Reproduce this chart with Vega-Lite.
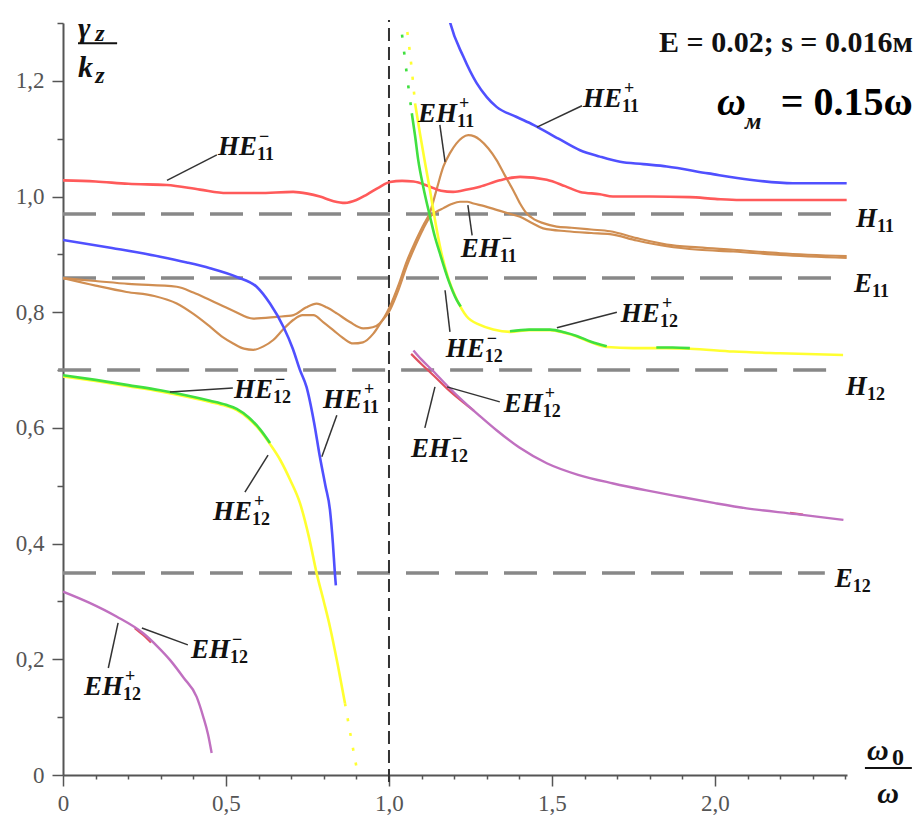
{
 "$schema": "https://vega.github.io/schema/vega-lite/v6.json",
 "width": 784, "height": 752,
 "autosize": {"type": "none"},
 "padding": {"left": 63, "top": 23, "right": 69, "bottom": 43},
 "background": "white",
 "config": {"font": "Liberation Serif", "view": {"stroke": null}, "text": {"font": "Liberation Serif"}, "axis": {"labelFont": "Liberation Serif"}},
 "datasets": {
  "refs": [
   {"n":"H11","x":0,"x2":2.399,"y":0.970},
   {"n":"E11","x":0,"x2":2.390,"y":0.859},
   {"n":"H12","x":-0.015,"x2":2.383,"y":0.700},
   {"n":"E12","x":0,"x2":2.337,"y":0.349}
  ],
  "vref": [{"x":1.0,"y":-0.012,"y2":1.305}],
  "curves": [
   {"m":"HE11m","p":"A","x":0,"y":1.028},{"m":"HE11m","p":"A","x":0.1,"y":1.026},{"m":"HE11m","p":"A","x":0.2,"y":1.022},{"m":"HE11m","p":"A","x":0.318,"y":1.020},{"m":"HE11m","p":"A","x":0.42,"y":1.012},{"m":"HE11m","p":"A","x":0.502,"y":1.006},{"m":"HE11m","p":"A","x":0.6,"y":1.006},{"m":"HE11m","p":"A","x":0.706,"y":1.008},{"m":"HE11m","p":"A","x":0.75,"y":1.005},{"m":"HE11m","p":"A","x":0.788,"y":1.0},{"m":"HE11m","p":"A","x":0.83,"y":0.992},{"m":"HE11m","p":"A","x":0.865,"y":0.989},{"m":"HE11m","p":"A","x":0.9,"y":0.994},{"m":"HE11m","p":"A","x":0.931,"y":1.003},{"m":"HE11m","p":"A","x":0.97,"y":1.016},{"m":"HE11m","p":"A","x":1.003,"y":1.025},{"m":"HE11m","p":"A","x":1.04,"y":1.027},{"m":"HE11m","p":"A","x":1.075,"y":1.026},{"m":"HE11m","p":"A","x":1.126,"y":1.017},{"m":"HE11m","p":"A","x":1.16,"y":1.010},{"m":"HE11m","p":"A","x":1.197,"y":1.008},{"m":"HE11m","p":"A","x":1.24,"y":1.012},{"m":"HE11m","p":"A","x":1.279,"y":1.017},{"m":"HE11m","p":"A","x":1.34,"y":1.028},{"m":"HE11m","p":"A","x":1.402,"y":1.034},{"m":"HE11m","p":"A","x":1.484,"y":1.029},{"m":"HE11m","p":"A","x":1.54,"y":1.018},{"m":"HE11m","p":"A","x":1.586,"y":1.008},{"m":"HE11m","p":"A","x":1.647,"y":1.004},{"m":"HE11m","p":"A","x":1.687,"y":1.0},{"m":"HE11m","p":"A","x":1.8,"y":1.0},{"m":"HE11m","p":"A","x":1.923,"y":0.999},{"m":"HE11m","p":"A","x":2.0,"y":0.996},{"m":"HE11m","p":"A","x":2.077,"y":0.994},{"m":"HE11m","p":"A","x":2.25,"y":0.994},{"m":"HE11m","p":"A","x":2.404,"y":0.994},

   {"m":"HE11p","p":"L","x":0,"y":0.925},{"m":"HE11p","p":"L","x":0.15,"y":0.911},{"m":"HE11p","p":"L","x":0.298,"y":0.896},{"m":"HE11p","p":"L","x":0.38,"y":0.886},{"m":"HE11p","p":"L","x":0.451,"y":0.876},{"m":"HE11p","p":"L","x":0.533,"y":0.861},{"m":"HE11p","p":"L","x":0.594,"y":0.844},{"m":"HE11p","p":"L","x":0.635,"y":0.815},{"m":"HE11p","p":"L","x":0.676,"y":0.775},{"m":"HE11p","p":"L","x":0.705,"y":0.737},{"m":"HE11p","p":"L","x":0.727,"y":0.700},{"m":"HE11p","p":"L","x":0.747,"y":0.671},{"m":"HE11p","p":"L","x":0.77,"y":0.61},{"m":"HE11p","p":"L","x":0.788,"y":0.55},{"m":"HE11p","p":"L","x":0.805,"y":0.5},{"m":"HE11p","p":"L","x":0.819,"y":0.458},{"m":"HE11p","p":"L","x":0.828,"y":0.4},{"m":"HE11p","p":"L","x":0.834,"y":0.349},{"m":"HE11p","p":"L","x":0.837,"y":0.328},
   {"m":"HE11p","p":"R","x":1.172,"y":1.34},{"m":"HE11p","p":"R","x":1.187,"y":1.302},{"m":"HE11p","p":"R","x":1.228,"y":1.242},{"m":"HE11p","p":"R","x":1.269,"y":1.196},{"m":"HE11p","p":"R","x":1.30,"y":1.172},{"m":"HE11p","p":"R","x":1.33,"y":1.155},{"m":"HE11p","p":"R","x":1.39,"y":1.138},{"m":"HE11p","p":"R","x":1.443,"y":1.124},{"m":"HE11p","p":"R","x":1.52,"y":1.10},{"m":"HE11p","p":"R","x":1.586,"y":1.080},{"m":"HE11p","p":"R","x":1.647,"y":1.069},{"m":"HE11p","p":"R","x":1.709,"y":1.060},{"m":"HE11p","p":"R","x":1.78,"y":1.056},{"m":"HE11p","p":"R","x":1.852,"y":1.052},{"m":"HE11p","p":"R","x":1.98,"y":1.040},{"m":"HE11p","p":"R","x":2.107,"y":1.029},{"m":"HE11p","p":"R","x":2.239,"y":1.023},{"m":"HE11p","p":"R","x":2.404,"y":1.023},

   {"m":"EH11p","p":"A","x":0,"y":0.859},{"m":"EH11p","p":"A","x":0.1,"y":0.854},{"m":"EH11p","p":"A","x":0.2,"y":0.849},{"m":"EH11p","p":"A","x":0.349,"y":0.844},{"m":"EH11p","p":"A","x":0.4,"y":0.834},{"m":"EH11p","p":"A","x":0.451,"y":0.821},{"m":"EH11p","p":"A","x":0.52,"y":0.803},{"m":"EH11p","p":"A","x":0.584,"y":0.789},{"m":"EH11p","p":"A","x":0.655,"y":0.792},{"m":"EH11p","p":"A","x":0.707,"y":0.795},{"m":"EH11p","p":"A","x":0.745,"y":0.808},{"m":"EH11p","p":"A","x":0.778,"y":0.815},{"m":"EH11p","p":"A","x":0.81,"y":0.808},{"m":"EH11p","p":"A","x":0.84,"y":0.798},{"m":"EH11p","p":"A","x":0.88,"y":0.783},{"m":"EH11p","p":"A","x":0.921,"y":0.772},{"m":"EH11p","p":"A","x":0.95,"y":0.774},{"m":"EH11p","p":"A","x":0.972,"y":0.781},{"m":"EH11p","p":"A","x":1.003,"y":0.81},{"m":"EH11p","p":"A","x":1.03,"y":0.848},{"m":"EH11p","p":"A","x":1.054,"y":0.887},{"m":"EH11p","p":"A","x":1.08,"y":0.921},{"m":"EH11p","p":"A","x":1.105,"y":0.95},{"m":"EH11p","p":"A","x":1.126,"y":0.973},{"m":"EH11p","p":"A","x":1.146,"y":1.012},{"m":"EH11p","p":"A","x":1.167,"y":1.052},{"m":"EH11p","p":"A","x":1.187,"y":1.075},{"m":"EH11p","p":"A","x":1.207,"y":1.092},{"m":"EH11p","p":"A","x":1.225,"y":1.102},{"m":"EH11p","p":"A","x":1.243,"y":1.106},{"m":"EH11p","p":"A","x":1.262,"y":1.104},{"m":"EH11p","p":"A","x":1.279,"y":1.098},{"m":"EH11p","p":"A","x":1.305,"y":1.083},{"m":"EH11p","p":"A","x":1.33,"y":1.063},{"m":"EH11p","p":"A","x":1.355,"y":1.037},{"m":"EH11p","p":"A","x":1.381,"y":1.011},{"m":"EH11p","p":"A","x":1.402,"y":0.988},{"m":"EH11p","p":"A","x":1.422,"y":0.971},{"m":"EH11p","p":"A","x":1.447,"y":0.96},{"m":"EH11p","p":"A","x":1.473,"y":0.954},{"m":"EH11p","p":"A","x":1.514,"y":0.948},{"m":"EH11p","p":"A","x":1.56,"y":0.946},{"m":"EH11p","p":"A","x":1.62,"y":0.943},{"m":"EH11p","p":"A","x":1.678,"y":0.94},{"m":"EH11p","p":"A","x":1.76,"y":0.928},{"m":"EH11p","p":"A","x":1.852,"y":0.917},{"m":"EH11p","p":"A","x":1.95,"y":0.912},{"m":"EH11p","p":"A","x":2.056,"y":0.908},{"m":"EH11p","p":"A","x":2.2,"y":0.902},{"m":"EH11p","p":"A","x":2.404,"y":0.897},

   {"m":"EH11m","p":"A","x":0,"y":0.859},{"m":"EH11m","p":"A","x":0.1,"y":0.846},{"m":"EH11m","p":"A","x":0.195,"y":0.835},{"m":"EH11m","p":"A","x":0.28,"y":0.828},{"m":"EH11m","p":"A","x":0.349,"y":0.815},{"m":"EH11m","p":"A","x":0.4,"y":0.797},{"m":"EH11m","p":"A","x":0.451,"y":0.775},{"m":"EH11m","p":"A","x":0.49,"y":0.757},{"m":"EH11m","p":"A","x":0.522,"y":0.746},{"m":"EH11m","p":"A","x":0.555,"y":0.737},{"m":"EH11m","p":"A","x":0.584,"y":0.735},{"m":"EH11m","p":"A","x":0.615,"y":0.741},{"m":"EH11m","p":"A","x":0.645,"y":0.752},{"m":"EH11m","p":"A","x":0.675,"y":0.77},{"m":"EH11m","p":"A","x":0.707,"y":0.787},{"m":"EH11m","p":"A","x":0.735,"y":0.795},{"m":"EH11m","p":"A","x":0.768,"y":0.795},{"m":"EH11m","p":"A","x":0.8,"y":0.782},{"m":"EH11m","p":"A","x":0.829,"y":0.769},{"m":"EH11m","p":"A","x":0.86,"y":0.755},{"m":"EH11m","p":"A","x":0.89,"y":0.746},{"m":"EH11m","p":"A","x":0.92,"y":0.748},{"m":"EH11m","p":"A","x":0.952,"y":0.763},{"m":"EH11m","p":"A","x":0.975,"y":0.782},{"m":"EH11m","p":"A","x":1.003,"y":0.804},{"m":"EH11m","p":"A","x":1.03,"y":0.84},{"m":"EH11m","p":"A","x":1.054,"y":0.879},{"m":"EH11m","p":"A","x":1.08,"y":0.914},{"m":"EH11m","p":"A","x":1.105,"y":0.944},{"m":"EH11m","p":"A","x":1.126,"y":0.965},{"m":"EH11m","p":"A","x":1.146,"y":0.974},{"m":"EH11m","p":"A","x":1.167,"y":0.98},{"m":"EH11m","p":"A","x":1.192,"y":0.987},{"m":"EH11m","p":"A","x":1.218,"y":0.991},{"m":"EH11m","p":"A","x":1.24,"y":0.991},{"m":"EH11m","p":"A","x":1.259,"y":0.988},{"m":"EH11m","p":"A","x":1.295,"y":0.983},{"m":"EH11m","p":"A","x":1.33,"y":0.977},{"m":"EH11m","p":"A","x":1.365,"y":0.971},{"m":"EH11m","p":"A","x":1.402,"y":0.965},{"m":"EH11m","p":"A","x":1.44,"y":0.954},{"m":"EH11m","p":"A","x":1.473,"y":0.945},{"m":"EH11m","p":"A","x":1.545,"y":0.94},{"m":"EH11m","p":"A","x":1.62,"y":0.937},{"m":"EH11m","p":"A","x":1.678,"y":0.935},{"m":"EH11m","p":"A","x":1.76,"y":0.924},{"m":"EH11m","p":"A","x":1.852,"y":0.914},{"m":"EH11m","p":"A","x":1.95,"y":0.908},{"m":"EH11m","p":"A","x":2.056,"y":0.905},{"m":"EH11m","p":"A","x":2.2,"y":0.899},{"m":"EH11m","p":"A","x":2.404,"y":0.894},

   {"m":"HE12p","p":"L","x":0,"y":0.689},{"m":"HE12p","p":"L","x":0.1,"y":0.681},{"m":"HE12p","p":"L","x":0.2,"y":0.672},{"m":"HE12p","p":"L","x":0.298,"y":0.663},{"m":"HE12p","p":"L","x":0.38,"y":0.654},{"m":"HE12p","p":"L","x":0.451,"y":0.645},{"m":"HE12p","p":"L","x":0.5,"y":0.638},{"m":"HE12p","p":"L","x":0.533,"y":0.631},{"m":"HE12p","p":"L","x":0.57,"y":0.616},{"m":"HE12p","p":"L","x":0.604,"y":0.596},{"m":"HE12p","p":"L","x":0.635,"y":0.572},{"m":"HE12p","p":"L","x":0.666,"y":0.545},{"m":"HE12p","p":"L","x":0.697,"y":0.51},{"m":"HE12p","p":"L","x":0.727,"y":0.47},{"m":"HE12p","p":"L","x":0.755,"y":0.41},{"m":"HE12p","p":"L","x":0.778,"y":0.349},{"m":"HE12p","p":"L","x":0.8,"y":0.3},{"m":"HE12p","p":"L","x":0.819,"y":0.256},{"m":"HE12p","p":"L","x":0.843,"y":0.19},{"m":"HE12p","p":"L","x":0.865,"y":0.124},
   {"m":"HE12p","p":"dot","x":0.865,"y":0.124},{"m":"HE12p","p":"dot","x":0.885,"y":0.06},{"m":"HE12p","p":"dot","x":0.905,"y":0.0},
   {"m":"HE12p","p":"R","x":1.08,"y":1.161},{"m":"HE12p","p":"R","x":1.095,"y":1.109},{"m":"HE12p","p":"R","x":1.11,"y":1.06},{"m":"HE12p","p":"R","x":1.126,"y":1.01},{"m":"HE12p","p":"R","x":1.141,"y":0.96},{"m":"HE12p","p":"R","x":1.156,"y":0.915},{"m":"HE12p","p":"R","x":1.18,"y":0.862},{"m":"HE12p","p":"R","x":1.208,"y":0.822},{"m":"HE12p","p":"R","x":1.238,"y":0.793},{"m":"HE12p","p":"R","x":1.279,"y":0.778},{"m":"HE12p","p":"R","x":1.32,"y":0.77},{"m":"HE12p","p":"R","x":1.371,"y":0.766},{"m":"HE12p","p":"R","x":1.43,"y":0.769},{"m":"HE12p","p":"R","x":1.494,"y":0.769},{"m":"HE12p","p":"R","x":1.54,"y":0.764},{"m":"HE12p","p":"R","x":1.576,"y":0.758},{"m":"HE12p","p":"R","x":1.62,"y":0.748},{"m":"HE12p","p":"R","x":1.668,"y":0.74},{"m":"HE12p","p":"R","x":1.75,"y":0.738},{"m":"HE12p","p":"R","x":1.85,"y":0.738},{"m":"HE12p","p":"R","x":1.923,"y":0.737},{"m":"HE12p","p":"R","x":2.056,"y":0.732},{"m":"HE12p","p":"R","x":2.2,"y":0.729},{"m":"HE12p","p":"R","x":2.393,"y":0.726},
   {"m":"HE12p","p":"dot2","x":1.05,"y":1.31},{"m":"HE12p","p":"dot2","x":1.066,"y":1.24},{"m":"HE12p","p":"dot2","x":1.08,"y":1.161},

   {"m":"HE12m","p":"L","x":0,"y":0.691},{"m":"HE12m","p":"L","x":0.1,"y":0.683},{"m":"HE12m","p":"L","x":0.2,"y":0.674},{"m":"HE12m","p":"L","x":0.298,"y":0.665},{"m":"HE12m","p":"L","x":0.38,"y":0.656},{"m":"HE12m","p":"L","x":0.451,"y":0.647},{"m":"HE12m","p":"L","x":0.5,"y":0.64},{"m":"HE12m","p":"L","x":0.533,"y":0.633},{"m":"HE12m","p":"L","x":0.57,"y":0.618},{"m":"HE12m","p":"L","x":0.604,"y":0.598},{"m":"HE12m","p":"L","x":0.635,"y":0.574},
   {"m":"HE12m","p":"R1","x":1.07,"y":1.144},{"m":"HE12m","p":"R1","x":1.08,"y":1.105},{"m":"HE12m","p":"R1","x":1.09,"y":1.062},{"m":"HE12m","p":"R1","x":1.105,"y":1.017},{"m":"HE12m","p":"R1","x":1.126,"y":0.965},{"m":"HE12m","p":"R1","x":1.141,"y":0.93},{"m":"HE12m","p":"R1","x":1.156,"y":0.902},{"m":"HE12m","p":"R1","x":1.182,"y":0.856},{"m":"HE12m","p":"R1","x":1.208,"y":0.821},{"m":"HE12m","p":"R1","x":1.22,"y":0.81},
   {"m":"HE12m","p":"R2","x":1.371,"y":0.767},{"m":"HE12m","p":"R2","x":1.43,"y":0.77},{"m":"HE12m","p":"R2","x":1.494,"y":0.77},{"m":"HE12m","p":"R2","x":1.54,"y":0.765},{"m":"HE12m","p":"R2","x":1.576,"y":0.759},{"m":"HE12m","p":"R2","x":1.62,"y":0.749},{"m":"HE12m","p":"R2","x":1.668,"y":0.741},
   {"m":"HE12m","p":"R3","x":1.82,"y":0.739},{"m":"HE12m","p":"R3","x":1.87,"y":0.739},{"m":"HE12m","p":"R3","x":1.923,"y":0.738},
   {"m":"HE12m","p":"dot2","x":1.04,"y":1.28},{"m":"HE12m","p":"dot2","x":1.055,"y":1.21},{"m":"HE12m","p":"dot2","x":1.07,"y":1.144},

   {"m":"EH12m","p":"L","x":0.22,"y":0.254},{"m":"EH12m","p":"L","x":0.246,"y":0.242},{"m":"EH12m","p":"L","x":0.27,"y":0.229},
   {"m":"EH12m","p":"R","x":1.068,"y":0.728},{"m":"EH12m","p":"R","x":1.1,"y":0.710},{"m":"EH12m","p":"R","x":1.136,"y":0.691},{"m":"EH12m","p":"R","x":1.18,"y":0.667},{"m":"EH12m","p":"R","x":1.228,"y":0.644},{"m":"EH12m","p":"R","x":1.26,"y":0.630},
   {"m":"EH12m","p":"R2","x":2.23,"y":0.453},{"m":"EH12m","p":"R2","x":2.27,"y":0.450},

   {"m":"EH12p","p":"L","x":0,"y":0.317},{"m":"EH12p","p":"L","x":0.08,"y":0.298},{"m":"EH12p","p":"L","x":0.164,"y":0.274},{"m":"EH12p","p":"L","x":0.246,"y":0.245},{"m":"EH12p","p":"L","x":0.29,"y":0.222},{"m":"EH12p","p":"L","x":0.328,"y":0.199},{"m":"EH12p","p":"L","x":0.37,"y":0.168},{"m":"EH12p","p":"L","x":0.41,"y":0.135},{"m":"EH12p","p":"L","x":0.43,"y":0.101},{"m":"EH12p","p":"L","x":0.445,"y":0.07},{"m":"EH12p","p":"L","x":0.456,"y":0.038},
   {"m":"EH12p","p":"R","x":1.075,"y":0.734},{"m":"EH12p","p":"R","x":1.1,"y":0.718},{"m":"EH12p","p":"R","x":1.136,"y":0.698},{"m":"EH12p","p":"R","x":1.18,"y":0.672},{"m":"EH12p","p":"R","x":1.228,"y":0.646},{"m":"EH12p","p":"R","x":1.28,"y":0.62},{"m":"EH12p","p":"R","x":1.33,"y":0.596},{"m":"EH12p","p":"R","x":1.4,"y":0.566},{"m":"EH12p","p":"R","x":1.484,"y":0.539},{"m":"EH12p","p":"R","x":1.58,"y":0.519},{"m":"EH12p","p":"R","x":1.688,"y":0.504},{"m":"EH12p","p":"R","x":1.79,"y":0.492},{"m":"EH12p","p":"R","x":1.893,"y":0.481},{"m":"EH12p","p":"R","x":2.0,"y":0.47},{"m":"EH12p","p":"R","x":2.097,"y":0.461},{"m":"EH12p","p":"R","x":2.25,"y":0.451},{"m":"EH12p","p":"R","x":2.394,"y":0.441}
  ],
  "leaders": [
   {"x":0.472,"y":1.072,"x2":0.319,"y2":1.028},
   {"x":1.592,"y":1.157,"x2":1.454,"y2":1.12},
   {"x":1.156,"y":1.124,"x2":1.172,"y2":1.06},
   {"x":1.242,"y":0.985,"x2":1.255,"y2":0.933},
   {"x":1.699,"y":0.8,"x2":1.515,"y2":0.773},
   {"x":1.187,"y":0.766,"x2":1.172,"y2":0.838},
   {"x":1.34,"y":0.645,"x2":1.178,"y2":0.671},
   {"x":1.11,"y":0.6,"x2":1.141,"y2":0.671},
   {"x":0.521,"y":0.669,"x2":0.328,"y2":0.662},
   {"x":0.84,"y":0.622,"x2":0.794,"y2":0.55},
   {"x":0.558,"y":0.489,"x2":0.629,"y2":0.553},
   {"x":0.383,"y":0.225,"x2":0.242,"y2":0.254},
   {"x":0.139,"y":0.185,"x2":0.169,"y2":0.263}
  ],
  "labels": [
   {"x":0.595,"y":1.072,"main":"HE","sub":"11","sup":"−"},
   {"x":1.715,"y":1.155,"main":"HE","sub":"11","sup":"+"},
   {"x":1.209,"y":1.129,"main":"EH","sub":"11","sup":"+"},
   {"x":1.34,"y":0.895,"main":"EH","sub":"11","sup":"−"},
   {"x":1.831,"y":0.783,"main":"HE","sub":"12","sup":"+"},
   {"x":1.294,"y":0.723,"main":"HE","sub":"12","sup":"−"},
   {"x":1.472,"y":0.627,"main":"EH","sub":"12","sup":"+"},
   {"x":1.187,"y":0.55,"main":"EH","sub":"12","sup":"−"},
   {"x":0.644,"y":0.652,"main":"HE","sub":"12","sup":"−"},
   {"x":0.917,"y":0.634,"main":"HE","sub":"11","sup":"+"},
   {"x":0.58,"y":0.441,"main":"HE","sub":"12","sup":"+"},
   {"x":0.512,"y":0.202,"main":"EH","sub":"12","sup":"−"},
   {"x":0.184,"y":0.138,"main":"EH","sub":"12","sup":"+"},
   {"x":2.497,"y":0.947,"main":"H","sub":"11","sup":""},
   {"x":2.482,"y":0.835,"main":"E","sub":"11","sup":""},
   {"x":2.466,"y":0.657,"main":"H","sub":"12","sup":""},
   {"x":2.423,"y":0.325,"main":"E","sub":"12","sup":""}
  ]
 },
 "encoding": {
  "x": {"field":"x","type":"quantitative","scale":{"domain":[0,2.405],"nice":false,"zero":false},
   "axis":{"values":[0,0.1,0.2,0.3,0.4,0.5,0.6,0.7,0.8,0.9,1.0,1.1,1.2,1.3,1.4,1.5,1.6,1.7,1.8,1.9,2.0,2.1,2.2,2.3,2.4],
    "labelExpr":"abs(datum.value*2-round(datum.value*2))<0.001 ? (datum.value==0 ? '0' : replace(format(datum.value,'.1f'),'.',',')) : ''",
    "tickSize":{"condition":{"test":"abs(datum.value*2-round(datum.value*2))<0.001","value":11},"value":4},
    "grid":false,"title":null,"domainColor":"#555","domainWidth":2,"tickColor":"#555","tickWidth":1.5,
    "labelFont":"Liberation Serif","labelFontSize":23,"labelColor":"#555","labelPadding":6,"labelFlush":false,"labelOverlap":false}},
  "y": {"field":"y","type":"quantitative","scale":{"domain":[0,1.3],"nice":false,"zero":false},
   "axis":{"values":[0,0.1,0.2,0.3,0.4,0.5,0.6,0.7,0.8,0.9,1.0,1.1,1.2,1.3],
    "labelExpr":"abs(datum.value*5-round(datum.value*5))<0.001 ? (datum.value==0 ? '0' : replace(format(datum.value,'.1f'),'.',',')) : ''",
    "tickSize":{"condition":{"test":"abs(datum.value*5-round(datum.value*5))<0.001","value":11},"value":6},
    "grid":false,"title":null,"domainColor":"#555","domainWidth":2,"tickColor":"#555","tickWidth":1.5,
    "labelFont":"Liberation Serif","labelFontSize":23,"labelColor":"#555","labelPadding":8,"labelFlush":false,"labelOverlap":false}}
 },
 "layer": [
  {"data":{"name":"refs"},"mark":{"type":"rule","color":"#888","strokeWidth":3.5,"strokeDash":[33,16]},"encoding":{"x2":{"field":"x2"}}},
  {"data":{"name":"vref"},"mark":{"type":"rule","color":"#333","strokeWidth":2,"strokeDash":[13,6]},"encoding":{"y2":{"field":"y2"}}},
  {"data":{"name":"curves"},"transform":[{"filter":"(datum.m=='EH11p' || datum.m=='EH11m')"}],"mark":{"type":"line","color":"#d08e52","strokeWidth":2.2,"interpolate":"monotone","clip":true},"encoding":{"detail":[{"field":"m"},{"field":"p"}]}},
  {"data":{"name":"curves"},"transform":[{"filter":"datum.m=='HE11m'"}],"mark":{"type":"line","color":"#ff5a5a","strokeWidth":2.6,"interpolate":"monotone","clip":true},"encoding":{"detail":[{"field":"p"}]}},
  {"data":{"name":"curves"},"transform":[{"filter":"datum.m=='HE11p'"}],"mark":{"type":"line","color":"#5050ff","strokeWidth":2.6,"interpolate":"monotone","clip":true},"encoding":{"detail":[{"field":"p"}]}},
  {"data":{"name":"curves"},"transform":[{"filter":"datum.m=='HE12p' && datum.p!='dot' && datum.p!='dot2'"}],"mark":{"type":"line","color":"#ffff30","strokeWidth":2.6,"interpolate":"monotone","clip":true},"encoding":{"detail":[{"field":"p"}]}},
  {"data":{"name":"curves"},"transform":[{"filter":"datum.m=='HE12m' && datum.p!='dot2'"}],"mark":{"type":"line","color":"#40e040","strokeWidth":2.6,"interpolate":"monotone","clip":true},"encoding":{"detail":[{"field":"p"}]}},
  {"data":{"name":"curves"},"transform":[{"filter":"datum.m=='HE12p' && (datum.p=='dot' || datum.p=='dot2')"}],"mark":{"type":"line","color":"#ffff30","strokeWidth":2.6,"strokeDash":[3,12],"interpolate":"monotone","clip":true},"encoding":{"detail":[{"field":"p"}]}},
  {"data":{"name":"curves"},"transform":[{"filter":"datum.m=='HE12m' && datum.p=='dot2'"}],"mark":{"type":"line","color":"#40e040","strokeWidth":2.6,"strokeDash":[3,14],"interpolate":"monotone","clip":true},"encoding":{"detail":[{"field":"p"}]}},
  {"data":{"name":"curves"},"transform":[{"filter":"datum.m=='EH12m'"}],"mark":{"type":"line","color":"#e05060","strokeWidth":2.2,"interpolate":"monotone","clip":true},"encoding":{"detail":[{"field":"p"}]}},
  {"data":{"name":"curves"},"transform":[{"filter":"datum.m=='EH12p'"}],"mark":{"type":"line","color":"#c070c0","strokeWidth":2.4,"interpolate":"monotone","clip":true},"encoding":{"detail":[{"field":"p"}]}},
  {"data":{"name":"leaders"},"mark":{"type":"rule","color":"#333","strokeWidth":1.5},"encoding":{"x2":{"field":"x2"},"y2":{"field":"y2"}}},
  {"data":{"name":"labels"},"mark":{"type":"text","align":"right","baseline":"alphabetic","font":"Liberation Serif","fontSize":27,"fontWeight":"bold","fontStyle":"italic","color":"#111"},"encoding":{"text":{"field":"main"}}},
  {"data":{"name":"labels"},"mark":{"type":"text","align":"left","baseline":"alphabetic","font":"Liberation Serif","fontSize":18,"fontWeight":"bold","dx":0,"dy":5,"color":"#111"},"encoding":{"text":{"field":"sub"}}},
  {"data":{"name":"labels"},"mark":{"type":"text","align":"left","baseline":"alphabetic","font":"Liberation Serif","fontSize":18,"fontWeight":"bold","dx":2,"dy":-13,"color":"#111"},"encoding":{"text":{"field":"sup"}}},
  {"data":{"values":[{"x":0.046,"y":1.274,"t":"γ"},{"x":0.046,"y":1.207,"t":"k"},{"x":2.466,"y":0.026,"t":"ω"}]},"mark":{"type":"text","align":"left","baseline":"alphabetic","font":"Liberation Serif","fontSize":30,"fontWeight":"bold","fontStyle":"italic","color":"#111"},"encoding":{"text":{"field":"t"}}},
  {"data":{"values":[{"x":2.006,"y":1.141,"t":"ω"}]},"mark":{"type":"text","align":"left","baseline":"alphabetic","font":"Liberation Serif","fontSize":40,"fontWeight":"bold","fontStyle":"italic","color":"#000"},"encoding":{"text":{"field":"t"}}},
  {"data":{"values":[{"x":0.099,"y":1.269,"t":"z"},{"x":0.099,"y":1.196,"t":"z"},{"x":2.092,"y":1.116,"t":"м"}]},"mark":{"type":"text","align":"left","baseline":"alphabetic","font":"Liberation Serif","fontSize":24,"fontWeight":"bold","fontStyle":"italic","color":"#111"},"encoding":{"text":{"field":"t"}}},
  {"data":{"values":[{"x":2.543,"y":0.017,"t":"0"}]},"mark":{"type":"text","align":"left","baseline":"alphabetic","font":"Liberation Serif","fontSize":24,"fontWeight":"bold","color":"#111"},"encoding":{"text":{"field":"t"}}},
  {"data":{"values":[{"x":2.531,"y":-0.048,"t":"ω"}]},"mark":{"type":"text","align":"center","baseline":"alphabetic","font":"Liberation Serif","fontSize":30,"fontWeight":"bold","fontStyle":"italic","color":"#111"},"encoding":{"text":{"field":"t"}}},
  {"data":{"values":[{"x":0.046,"x2":0.166,"y":1.265},{"x":2.46,"x2":2.604,"y":0.012}]},"mark":{"type":"rule","color":"#111","strokeWidth":2},"encoding":{"x2":{"field":"x2"}}},
  {"data":{"values":[{"x":2.607,"y":1.25,"t":"E = 0.02;   s = 0.016м"}]},"mark":{"type":"text","align":"right","baseline":"alphabetic","font":"Liberation Serif","fontSize":30,"fontWeight":"bold","color":"#111"},"encoding":{"text":{"field":"t"}}},
  {"data":{"values":[{"x":2.607,"y":1.141,"t":"= 0.15ω"}]},"mark":{"type":"text","align":"right","baseline":"alphabetic","font":"Liberation Serif","fontSize":40,"fontWeight":"bold","color":"#000"},"encoding":{"text":{"field":"t"}}}
 ]
}
